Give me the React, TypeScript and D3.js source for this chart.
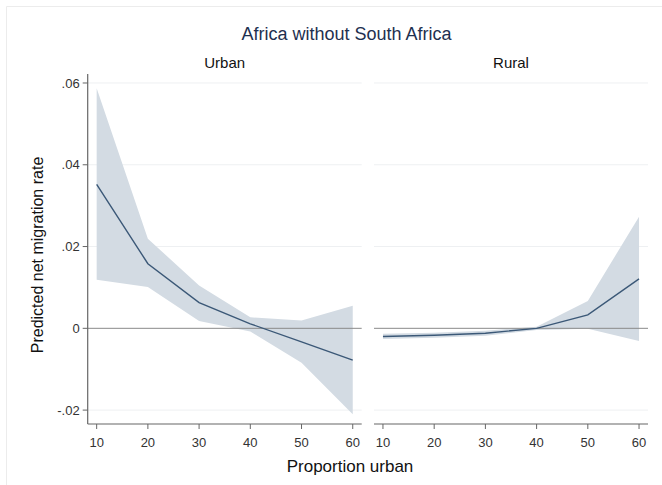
// Africa without South Africa — predicted net migration rate by proportion urban,
// two panels (Urban / Rural), fitted line with confidence band.
import * as d3 from "d3";

const proportionUrban = [10, 20, 30, 40, 50, 60];

const urbanFit = [0.0352, 0.0158, 0.0063, 0.0011, -0.0033, -0.0078];
const urbanUpper = [0.0587, 0.0219, 0.0105, 0.0027, 0.0019, 0.0055];
const urbanLower = [0.0119, 0.0101, 0.0018, -0.0008, -0.0084, -0.021];

const ruralFit = [-0.002, -0.0017, -0.0012, 0.0, 0.0033, 0.0121];
const ruralUpper = [-0.0013, -0.0011, -0.0006, 0.0004, 0.0067, 0.0273];
const ruralLower = [-0.0026, -0.0023, -0.0018, -0.0004, -0.0001, -0.0031];

const yTicks = [-0.02, 0, 0.02, 0.04, 0.06];
const yTickLabels = ["-.02", "0", ".02", ".04", ".06"];
const xTicks = [10, 20, 30, 40, 50, 60];

const panels = [
  { name: "Urban", fit: urbanFit, upper: urbanUpper, lower: urbanLower, range: [87.7, 361.7] },
  { name: "Rural", fit: ruralFit, upper: ruralUpper, lower: ruralLower, range: [374, 648] },
];

const W = 662;
const H = 485;
const FONT = "'Liberation Sans', Arial, sans-serif";
const LINE = "#3b5877";
const BAND = "#d3dbe3";

export default function App() {
  const y = d3.scaleLinear().domain([-0.0234, 0.0622]).range([424, 74]);
  const [top, bottom] = [y(0.0622), y(-0.0234)];

  return (
    <svg
      width={W}
      height={H}
      viewBox={`0 0 ${W} ${H}`}
      style={{ position: "absolute", left: 0, top: 0, background: "#fff" }}
      fontFamily={FONT}
    >
      {/* faint outer frame */}
      <line x1={6.5} x2={6.5} y1={6.5} y2={H} stroke="#ececec" />
      <line x1={6.5} x2={W} y1={6.5} y2={6.5} stroke="#ececec" />

      <text x={346.5} y={40} textAnchor="middle" fontSize={18} fill="#1e3050">
        Africa without South Africa
      </text>

      {panels.map((p) => {
        const x = d3.scaleLinear().domain([8.25, 61.75]).range(p.range);
        const [x0, x1] = p.range;
        const idx = d3.range(proportionUrban.length);
        const area = d3
          .area<number>()
          .x((i) => x(proportionUrban[i]))
          .y0((i) => y(p.lower[i]))
          .y1((i) => y(p.upper[i]));
        const line = d3
          .line<number>()
          .x((i) => x(proportionUrban[i]))
          .y((i) => y(p.fit[i]));
        return (
          <g key={p.name}>
            <text x={(x0 + x1) / 2} y={68} textAnchor="middle" fontSize={15} fill="#111">
              {p.name}
            </text>
            {/* gridlines */}
            {yTicks
              .filter((t) => t !== 0)
              .map((t) => (
                <line key={t} x1={x0} x2={x1} y1={y(t)} y2={y(t)} stroke="#eef0f2" strokeWidth={1} />
              ))}
            <path d={area(idx) ?? ""} fill={BAND} />
            <line x1={x0} x2={x1} y1={y(0)} y2={y(0)} stroke="#8a8a8a" strokeWidth={1} />
            <path d={line(idx) ?? ""} fill="none" stroke={LINE} strokeWidth={1.4} />
            {/* x axis */}
            <line x1={x0} x2={x1} y1={bottom} y2={bottom} stroke="#666" strokeWidth={1.2} />
            {xTicks.map((t) => (
              <g key={t} transform={`translate(${x(t)},${bottom})`}>
                <line y1={0} y2={5} stroke="#666" strokeWidth={1} />
                <text y={23} textAnchor="middle" fontSize={13} fill="#333">
                  {t}
                </text>
              </g>
            ))}
          </g>
        );
      })}

      {/* y axis on the left panel */}
      <line x1={87.7} x2={87.7} y1={top} y2={bottom} stroke="#666" strokeWidth={1.2} />
      {yTicks.map((t, i) => (
        <g key={t} transform={`translate(87.7,${y(t)})`}>
          <line x1={-5} x2={0} stroke="#666" strokeWidth={1} />
          <text x={-8} dy="0.35em" textAnchor="end" fontSize={13} fill="#333">
            {yTickLabels[i]}
          </text>
        </g>
      ))}

      <text
        transform={`translate(43,${(top + bottom) / 2 + 6}) rotate(-90)`}
        textAnchor="middle"
        fontSize={16}
        fill="#111"
      >
        Predicted net migration rate
      </text>
      <text x={350} y={472} textAnchor="middle" fontSize={17} fill="#111">
        Proportion urban
      </text>
    </svg>
  );
}
